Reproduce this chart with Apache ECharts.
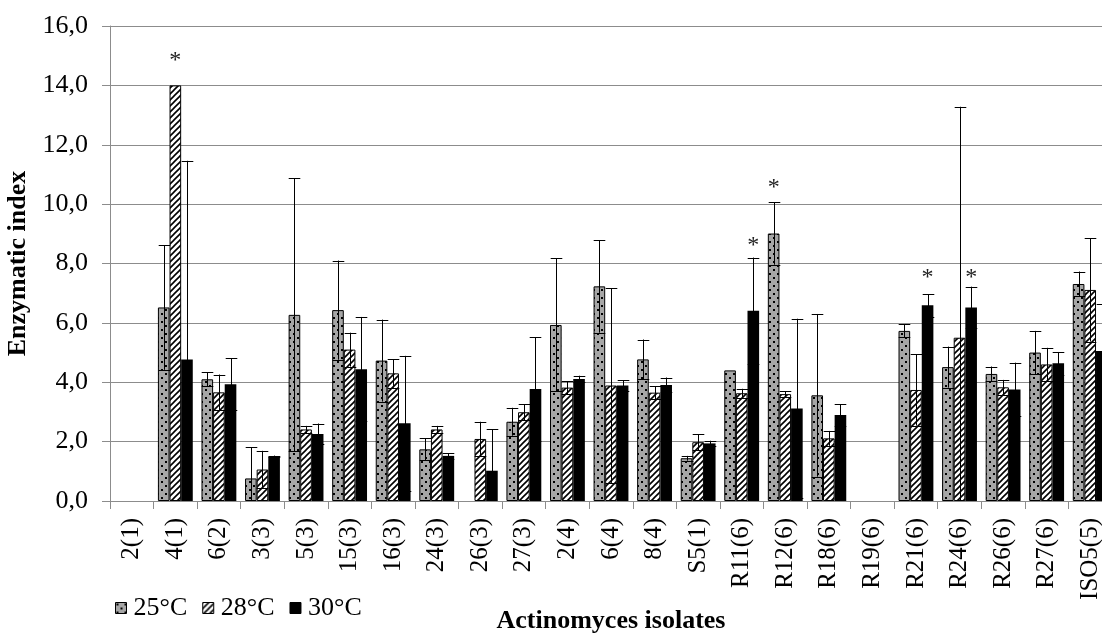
<!DOCTYPE html>
<html>
<head>
<meta charset="utf-8">
<script src="https://cdn.jsdelivr.net/npm/echarts@6/dist/echarts.min.js"></script>
<style>
html,body{margin:0;padding:0;overflow:hidden;background:#fff;}
#chart{width:1112px;height:635px;}
</style>
</head>
<body>
<div id="chart"></div>
<script>
const categories = ['2(1)','4(1)','6(2)','3(3)','5(3)','15(3)','16(3)','24(3)','26(3)','27(3)','2(4)','6(4)','8(4)','S5(1)','R11(6)','R12(6)','R18(6)','R19(6)','R21(6)','R24(6)','R26(6)','R27(6)','ISO5(5)'];
const seriesNames = ['25°C','28°C','30°C'];
const v25 = [0, 6.52, 4.10, 0.76, 6.27, 6.43, 4.73, 1.74, 0, 2.67, 5.93, 7.23, 4.77, 1.44, 4.40, 9.01, 3.56, 0, 5.73, 4.51, 4.28, 5.00, 7.31];
const e25 = [0, 2.1, 0.23, 1.05, 4.6, 1.67, 1.38, 0.37, 0, 0.47, 2.24, 1.56, 0.67, 0.08, 0, 1.05, 2.74, 0, 0.22, 0.69, 0.25, 0.73, 0.42];
const v28 = [0, 14.0, 3.66, 1.06, 2.41, 5.10, 4.30, 2.41, 2.09, 2.99, 3.82, 3.89, 3.65, 1.98, 3.63, 3.60, 2.11, 0, 3.74, 5.50, 3.83, 4.60, 7.11];
const e28 = [0, 0, 0.6, 0.63, 0.12, 0.57, 0.48, 0.12, 0.58, 0.27, 0.22, 3.28, 0.22, 0.27, 0.15, 0.09, 0.25, 0, 1.2, 7.78, 0.25, 0.56, 1.74];
const v30 = [0, 4.77, 3.93, 1.50, 2.26, 4.44, 2.62, 1.52, 1.02, 3.77, 4.11, 3.89, 3.91, 1.94, 6.41, 3.12, 2.90, 0, 6.59, 6.52, 3.76, 4.64, 5.05];
const e30 = [0, 6.69, 0.88, 0.03, 0.35, 1.76, 2.27, 0.09, 1.39, 1.75, 0.11, 0.17, 0.25, 0.09, 1.79, 3.02, 0.36, 0, 0.38, 0.70, 0.9, 0.38, 1.6];
// significance marks: [category, series index, height in axis units]
const starCats = ['4(1)','R11(6)','R12(6)','R21(6)','R24(6)'];
const starSeries = [1, 2, 0, 2, 2];
const starY = [15.0, 8.77, 10.73, 7.7, 7.7];
const yTicks = [0, 2, 4, 6, 8, 10, 12, 14, 16];

const FONT = 'Liberation Serif';
const BAR_FRAC = 0.8;

function dotPattern() {
  const c = document.createElement('canvas');
  c.width = 8; c.height = 8;
  const g = c.getContext('2d');
  g.fillStyle = '#a6a6a6'; g.fillRect(0,0,8,8);
  g.fillStyle = '#000';
  g.fillRect(1,1,2,2);
  g.fillRect(5,5,2,2);
  return c;
}
function hatchPattern() {
  const c = document.createElement('canvas');
  c.width = 6; c.height = 6;
  const g = c.getContext('2d');
  g.fillStyle = '#fff'; g.fillRect(0,0,6,6);
  g.strokeStyle = '#000'; g.lineWidth = 1.6;
  g.beginPath();
  g.moveTo(-1,7); g.lineTo(7,-1);
  g.moveTo(-1,1); g.lineTo(1,-1);
  g.moveTo(5,7); g.lineTo(7,5);
  g.stroke();
  return c;
}
const fills = [
  {image: dotPattern(), repeat: 'repeat'},
  {image: hatchPattern(), repeat: 'repeat'},
  '#000'
];
const values = [v25, v28, v30];
const errors = [e25, e28, e30];

function errSeries(s) {
  return {
    type: 'custom',
    name: seriesNames[s] + ' err',
    z: 5,
    silent: true,
    data: categories.map((c, i) => [i, values[s][i], errors[s][i]]),
    renderItem: function (params, api) {
      const i = api.value(0), v = api.value(1), e = api.value(2);
      if (!e) return null;
      const band = api.size([1, 0])[0];
      const bw = band * BAR_FRAC / 3;
      const off = (s - 1) * bw;
      const top = api.coord([i, v + e]);
      const lowV = v - e;
      const low = api.coord([i, Math.max(0, lowV)]);
      const x = Math.round(top[0] + off) + 0.5;
      const half = bw / 2;
      const children = [
        {type: 'line', shape: {x1: x, y1: top[1], x2: x, y2: low[1]}, style: {stroke: '#000', lineWidth: 1}},
        {type: 'line', shape: {x1: x - half, y1: Math.round(top[1]) + 0.5, x2: x + half, y2: Math.round(top[1]) + 0.5}, style: {stroke: '#000', lineWidth: 1}}
      ];
      if (lowV >= 0) {
        children.push({type: 'line', shape: {x1: x - half, y1: Math.round(low[1]) + 0.5, x2: x + half, y2: Math.round(low[1]) + 0.5}, style: {stroke: '#000', lineWidth: 1}});
      }
      return {type: 'group', children: children};
    }
  };
}

const starSeriesObj = {
  type: 'custom',
  name: 'stars',
  z: 6,
  silent: true,
  data: starCats.map((c, k) => [categories.indexOf(c), starY[k], starSeries[k]]),
  renderItem: function (params, api) {
    const i = api.value(0), y = api.value(1), s = api.value(2);
    const band = api.size([1, 0])[0];
    const bw = band * BAR_FRAC / 3;
    const p = api.coord([i, y]);
    return {
      type: 'text',
      x: p[0] + (s - 1) * bw,
      y: p[1] + 5,
      style: {text: '*', fill: '#222', font: '24px "' + FONT + '"', align: 'center', verticalAlign: 'middle'}
    };
  }
};

const barSeries = seriesNames.map((n, s) => ({
  type: 'bar',
  name: n,
  data: values[s].map(v => v === 0 ? {value: v, itemStyle: {borderWidth: 0}} : v),
  barGap: '0%',
  barCategoryGap: '20%',
  itemStyle: {color: fills[s], borderColor: '#000', borderWidth: s === 2 ? 0 : 1},
  emphasis: {disabled: true}
}));

const chart = echarts.init(document.getElementById('chart'), null, {renderer: 'canvas'});
chart.setOption({
  animation: false,
  backgroundColor: '#fff',
  textStyle: {fontFamily: FONT, color: '#000'},
  grid: {left: 110, right: 0, top: 26, bottom: 134, containLabel: false, outerBoundsMode: 'none'},
  legend: {
    data: seriesNames,
    left: 110,
    top: 590,
    itemWidth: 11,
    itemHeight: 11,
    itemGap: 15,
    icon: 'rect',
    itemStyle: {borderColor: '#000', borderWidth: 1},
    textStyle: {fontFamily: FONT, fontSize: 26, color: '#000', padding: [0, 0, 0, 2]},
    selectedMode: false
  },
  xAxis: {
    type: 'category',
    data: categories,
    name: 'Actinomyces isolates',
    nameLocation: 'middle',
    nameGap: 106,
    nameTextStyle: {fontFamily: FONT, fontSize: 26, fontWeight: 'bold', color: '#000'},
    axisLine: {lineStyle: {color: '#8c8c8c', width: 1}},
    axisTick: {show: true, interval: 0, length: 8, lineStyle: {color: '#8c8c8c'}},
    axisLabel: {interval: 0, rotate: 90, margin: 17, fontFamily: FONT, fontSize: 25, color: '#000'}
  },
  yAxis: {
    type: 'value',
    min: yTicks[0],
    max: yTicks[yTicks.length - 1],
    interval: 2,
    name: 'Enzymatic index',
    nameLocation: 'middle',
    nameGap: 78,
    nameTextStyle: {fontFamily: FONT, fontSize: 26, fontWeight: 'bold', color: '#000'},
    axisLine: {show: true, lineStyle: {color: '#8c8c8c', width: 1}},
    axisTick: {show: true, length: 8, lineStyle: {color: '#8c8c8c'}},
    splitLine: {lineStyle: {color: '#8c8c8c', width: 1}},
    axisLabel: {
      margin: 22,
      fontFamily: FONT, fontSize: 26, color: '#000',
      formatter: v => v.toFixed(1).replace('.', ',')
    }
  },
  series: barSeries.concat([errSeries(0), errSeries(1), errSeries(2), starSeriesObj])
});
</script>
</body>
</html>
